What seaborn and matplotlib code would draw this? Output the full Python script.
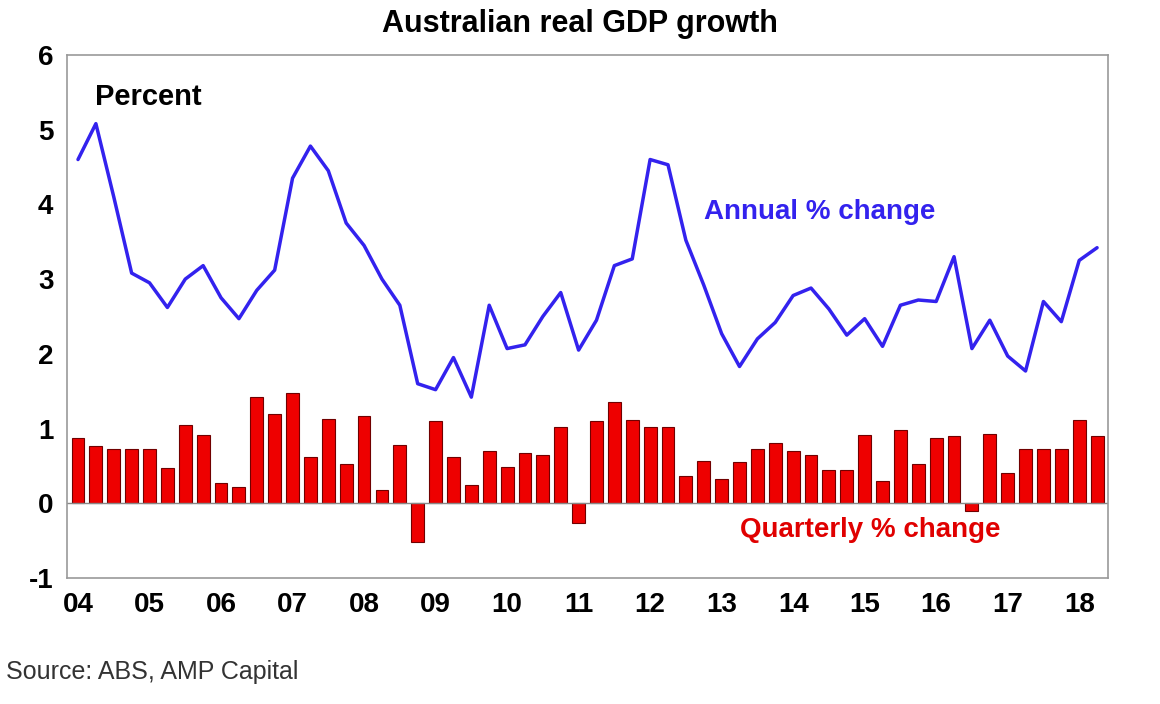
import numpy as np
import pandas as pd
import matplotlib
matplotlib.use('Agg')
import matplotlib.pyplot as plt
import seaborn as sns

annual = [4.6, 5.08, 4.1, 3.08, 2.95, 2.62, 3.0, 3.18, 2.75, 2.47,
          2.85, 3.12, 4.35, 4.78, 4.45, 3.75, 3.45, 3.0, 2.65, 1.6,
          1.52, 1.95, 1.42, 2.65, 2.07, 2.12, 2.5, 2.82, 2.05, 2.45,
          3.18, 3.27, 4.6, 4.53, 3.52, 2.92, 2.27, 1.83, 2.2, 2.42,
          2.78, 2.88, 2.6, 2.25, 2.47, 2.1, 2.65, 2.72, 2.7, 3.3,
          2.07, 2.45, 1.97, 1.77, 2.7, 2.43, 3.25, 3.42]
quarterly = [0.87, 0.77, 0.72, 0.72, 0.72, 0.47, 1.05, 0.92, 0.27, 0.22,
             1.42, 1.2, 1.48, 0.62, 1.13, 0.52, 1.17, 0.18, 0.78, -0.52,
             1.1, 0.62, 0.25, 0.7, 0.48, 0.67, 0.65, 1.02, -0.27, 1.1,
             1.35, 1.12, 1.02, 1.02, 0.37, 0.57, 0.32, 0.55, 0.73, 0.8,
             0.7, 0.65, 0.45, 0.45, 0.92, 0.3, 0.98, 0.53, 0.87, 0.9,
             -0.1, 0.93, 0.4, 0.72, 0.72, 0.72, 1.12, 0.9]
year_labels = ['04', '05', '06', '07', '08', '09', '10', '11', '12',
               '13', '14', '15', '16', '17', '18']

df = pd.DataFrame({'q': np.arange(len(annual)), 'annual': annual, 'quarterly': quarterly})

sns.set_style('white')
plt.rcParams['font.family'] = ['Liberation Sans', 'DejaVu Sans']
plt.rcParams['axes.unicode_minus'] = False
plt.rcParams['text.color'] = 'black'

fig = plt.figure(figsize=(11.6, 7.04), dpi=100)
ax = fig.add_axes([0.058, 0.179, 0.897, 0.743])

sns.barplot(data=df, x='q', y='quarterly', native_scale=True, color='#ee0000',
            saturation=1, edgecolor='#700000', linewidth=0.8, width=0.72, ax=ax)
sns.lineplot(data=df, x='q', y='annual', color='#3322ee', linewidth=2.5, ax=ax)
ax.axhline(0, color='#888888', linewidth=1)

ax.set_xlim(-0.6, len(annual) - 0.4)
ax.set_ylim(-1, 6)
ax.set_yticks(range(-1, 7))
ax.set_xticks(np.arange(len(year_labels)) * 4)
ax.set_xticklabels(year_labels)
ax.tick_params(axis='both', labelsize=20, length=0, pad=10, labelcolor='black')
for t in ax.get_xticklabels() + ax.get_yticklabels():
    t.set_fontweight('bold')
ax.set_xlabel('')
ax.set_ylabel('')
for s in ax.spines.values():
    s.set_color('#999999')
    s.set_linewidth(1.2)

ax.text(0.027, 0.905, 'Percent', transform=ax.transAxes, fontsize=21, fontweight='bold')
ax.text(35, 3.8, 'Annual % change', color='#3322ee', fontsize=20, fontweight='bold')
ax.text(37, -0.45, 'Quarterly % change', color='#e00000', fontsize=20, fontweight='bold')
fig.text(0.50, 0.955, 'Australian real GDP growth', ha='center', fontsize=22, fontweight='bold')
fig.text(0.005, 0.035, 'Source: ABS, AMP Capital', fontsize=18, color='#333333')

fig.savefig('out.png', dpi=100)
